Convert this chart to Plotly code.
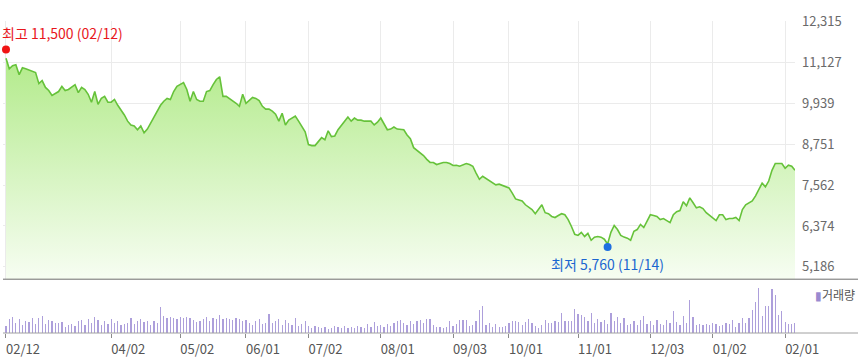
import plotly.graph_objects as go
import pandas as pd

# ---------------- data ----------------
holidays = ["2018-02-15", "2018-02-16", "2018-03-01", "2018-05-01", "2018-05-07",
            "2018-05-22", "2018-06-06", "2018-06-13", "2018-08-15", "2018-09-24",
            "2018-09-25", "2018-09-26", "2018-10-03", "2018-10-09", "2018-12-25",
            "2018-12-31", "2019-01-01", "2019-02-04", "2019-02-05", "2019-02-06"]

prices = [
    11250, 10940, 11030, 11060, 10770, 10970, 10940, 10910, 10880, 10830, 10510, 10600, 10400, 10310, 10170, 10230, 10280, 10430, 10310, 10340,
    10400, 10480, 10250, 10400, 10340, 10200, 9970, 10280, 9910, 10080, 10140, 9970, 9970, 10050, 9880, 9740, 9600, 9420, 9310, 9280,
    9170, 9280, 9080, 9190, 9370, 9510, 9710, 9880, 10000, 10080, 10050, 10280, 10430, 10480, 10540, 10340, 10000, 10280, 10050, 10000,
    10000, 10280, 10310, 10480, 10630, 10710, 10140, 10140, 10080, 10000, 9940, 9850, 10200, 9940, 10020, 10110, 10080, 10020, 9850, 9770,
    9770, 9710, 9620, 9420, 9650, 9310, 9450, 9510, 9570, 9420, 9280, 9110, 8740, 8710, 8710, 8820, 8940, 8880, 9140, 8970,
    8990, 9170, 9280, 9420, 9540, 9420, 9510, 9450, 9450, 9420, 9420, 9420, 9310, 9390, 9510, 9340, 9170, 9190, 9250, 9190,
    9190, 9170, 9020, 8910, 8650, 8570, 8480, 8420, 8310, 8220, 8220, 8160, 8190, 8220, 8220, 8190, 8130, 8140, 8110, 8160,
    8190, 8160, 8110, 7910, 7730, 7820, 7760, 7680, 7620, 7570, 7590, 7560, 7530, 7480, 7330, 7160, 7130, 7100, 6990, 6930,
    6850, 6730, 6880, 6990, 6760, 6730, 6650, 6620, 6680, 6730, 6700, 6560, 6360, 6130, 6100, 6190, 6070, 6160, 5960, 6050,
    6070, 6050, 5990, 5850, 6190, 6390, 6270, 6100, 6050, 6020, 5960, 6220, 6270, 6420, 6330, 6500, 6700, 6680, 6650, 6560,
    6590, 6530, 6470, 6700, 6790, 6820, 7080, 6960, 7190, 7050, 6900, 6930, 6880, 6760, 6680, 6590, 6530, 6700, 6700, 6560,
    6590, 6590, 6620, 6530, 6850, 6990, 7050, 7100, 7250, 7420, 7620, 7510, 7680, 7990, 8190, 8190, 8190, 8050, 8140, 8110, 7990,
]

volumes = [  # thousand shares
    70, 140, 160, 100, 140, 80, 120, 110, 150, 90, 150, 170, 90, 130, 120, 100, 100, 110, 60, 80,
    90, 70, 120, 130, 80, 140, 100, 160, 130, 80, 120, 90, 140, 100, 120, 80, 90, 100, 150, 90,
    120, 140, 110, 120, 80, 120, 100, 260, 170, 150, 160, 150, 140, 160, 150, 160, 150, 130, 110, 120,
    140, 160, 120, 150, 140, 180, 140, 150, 140, 130, 150, 140, 120, 130, 100, 80, 120, 140, 90, 100,
    190, 100, 120, 140, 80, 130, 100, 80, 150, 70, 90, 120, 70, 50, 70, 60, 50, 60, 40, 50,
    70, 60, 50, 70, 50, 60, 50, 70, 60, 50, 90, 60, 110, 70, 80, 60, 90, 70, 100, 120,
    130, 100, 80, 120, 90, 120, 130, 100, 140, 140, 80, 60, 60, 50, 60, 120, 70, 90, 130, 130,
    130, 70, 80, 120, 230, 270, 80, 100, 60, 90, 60, 60, 70, 100, 120, 120, 110, 80, 110, 140,
    100, 70, 50, 80, 130, 100, 100, 120, 110, 200, 120, 120, 120, 240, 190, 180, 160, 120, 200, 100,
    140, 110, 130, 90, 200, 120, 160, 100, 150, 80, 90, 120, 80, 130, 170, 90, 120, 80, 130, 90,
    80, 130, 100, 220, 110, 80, 170, 100, 330, 160, 80, 90, 80, 90, 80, 100, 90, 70, 80, 100,
    90, 130, 60, 100, 150, 100, 150, 230, 310, 460, 170, 270, 270, 450, 380, 180, 220, 110, 90, 90, 100,
]

tick_dates = ["2018-02-12", "2018-04-02", "2018-05-02", "2018-06-01", "2018-07-02", "2018-08-01",
              "2018-09-03", "2018-10-01", "2018-11-01", "2018-12-03", "2019-01-02", "2019-02-01"]
price_ticks = [5186, 6374, 7562, 8751, 9939, 11127, 12315]

high_date, high_value = "2018-02-12", 11500
low_date, low_value = "2018-11-14", 5760

# ---------------- build ----------------
days = pd.bdate_range("2018-02-12", "2019-02-11")
days = days[~days.isin(pd.to_datetime(holidays))]
dates = days.strftime("%Y-%m-%d").tolist()
assert len(dates) == len(prices) == len(volumes), (len(dates), len(prices), len(volumes))

tick_text = [d[5:7] + "/" + d[8:10] for d in tick_dates]
price_tick_text = [f"{v:,}" for v in price_ticks]
fmt_date = lambda d: d[5:7] + "/" + d[8:10]

FONT = "Noto Sans CJK KR"
W, H = 858, 361
ML, MR, MT, MB = 3, 63, 21, 24
PW = W - ML - MR
PH = H - MT - MB
price_bottom_px = 282.5
vol_top_px = 289
price_dom0 = (H - MB - price_bottom_px) / PH
vol_dom1 = (H - MB - vol_top_px) / PH
y_lo, y_hi = 4828, 12330
x_range = [-0.91, len(dates) - 1]

fig = go.Figure()
fig.add_trace(go.Scatter(
    x=dates, y=prices, mode="lines",
    line=dict(color="#66c23a", width=1.6),
    fill="tozeroy",
    fillgradient=dict(type="vertical",
                      colorscale=[[0, "#f6fdf1"], [1, "#b0ea87"]],
                      start=5000, stop=11500),
    xaxis="x", yaxis="y", hoverinfo="skip", showlegend=False,
))
fig.add_trace(go.Scatter(
    x=[high_date], y=[high_value], mode="markers",
    marker=dict(color="#f01414", size=8),
    xaxis="x", yaxis="y", showlegend=False, cliponaxis=False, hoverinfo="skip",
))
fig.add_trace(go.Scatter(
    x=[low_date], y=[low_value], mode="markers",
    marker=dict(color="#1e6fe0", size=8),
    xaxis="x", yaxis="y", showlegend=False, cliponaxis=False, hoverinfo="skip",
))
fig.add_trace(go.Bar(
    x=dates, y=volumes, width=0.38,
    marker=dict(color="#ad9fdb", line=dict(width=0)),
    xaxis="x2", yaxis="y2", showlegend=False, hoverinfo="skip",
))

fig.update_layout(
    width=W, height=H,
    margin=dict(l=ML, r=MR, t=MT, b=MB),
    paper_bgcolor="white", plot_bgcolor="white",
    font=dict(family=FONT, size=13, color="#666666"),
    showlegend=False,
    bargap=0,
    xaxis=dict(type="category", domain=[0, 1], range=x_range, anchor="y",
               tickmode="array", tickvals=tick_dates, showticklabels=False,
               showgrid=True, gridcolor="#ebebeb", gridwidth=1,
               ticks="", zeroline=False, showline=False, fixedrange=True),
    yaxis=dict(domain=[price_dom0, 1], range=[y_lo, y_hi], side="right", anchor="x",
               tickmode="array", tickvals=price_ticks, ticktext=price_tick_text,
               showgrid=True, gridcolor="#ebebeb", gridwidth=1,
               ticks="", ticklabelstandoff=6, zeroline=False, showline=False,
               tickfont=dict(family=FONT, size=13, color="#6a6a6a")),
    xaxis2=dict(type="category", domain=[0, 1], range=x_range, anchor="y2",
                tickmode="array", tickvals=tick_dates, ticktext=tick_text,
                ticks="outside", ticklen=4, tickcolor="#8a8a8a", tickwidth=1,
                ticklabelshift=17,
                showgrid=False, zeroline=False, showline=False,
                tickfont=dict(family=FONT, size=13, color="#555555")),
    yaxis2=dict(domain=[0, vol_dom1], range=[0, 480], anchor="x2",
                showgrid=False, showticklabels=False, zeroline=False, showline=False, ticks=""),
    shapes=[
        dict(type="line", xref="paper", yref="paper", x0=0, x1=(W - ML) / PW,
             y0=price_dom0, y1=price_dom0, line=dict(color="#6e6e6e", width=1)),
        dict(type="line", xref="paper", yref="paper", x0=0, x1=(W - ML) / PW,
             y0=0, y1=0, line=dict(color="#a0a0a0", width=1)),
    ],
    annotations=[
        dict(x=high_date, y=high_value, xref="x", yref="y", xanchor="left", yanchor="middle",
             xshift=-6, yshift=17, showarrow=False,
             text=f"최고 {high_value:,} ({fmt_date(high_date)})",
             font=dict(family=FONT, size=14, color="#e8161b")),
        dict(x=low_date, y=low_value, xref="x", yref="y", xanchor="center", yanchor="middle",
             yshift=-17, showarrow=False,
             text=f"최저 {low_value:,} ({fmt_date(low_date)})",
             font=dict(family=FONT, size=14, color="#1a66d0")),
        dict(x=(W - 1 - ML) / PW, y=(H - MB - 298) / PH, xref="paper", yref="paper",
             xanchor="right", yanchor="middle", showarrow=False,
             text="<span style='color:#9a8ad0'>▮</span>거래량",
             font=dict(family=FONT, size=12, color="#555555")),
    ],
)

fig.write_html("out.html",
               config={"displayModeBar": False, "staticPlot": True},
               post_script="document.body.style.margin='0';document.body.style.padding='0';"
                           "document.body.style.overflow='hidden';")
